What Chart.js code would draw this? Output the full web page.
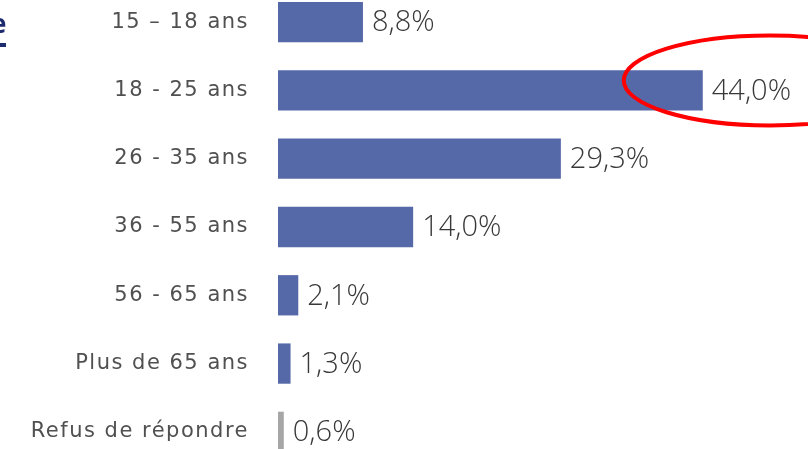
<!DOCTYPE html>
<html>
<head>
<meta charset="utf-8">
<script src="https://cdn.jsdelivr.net/npm/chart.js@4/dist/chart.umd.min.js"></script>
<style>
html,body{margin:0;padding:0;background:#fff;overflow:hidden;width:808px;height:449px;}
#wrap{position:absolute;left:0;top:-12px;width:808px;height:478px;}
</style>
</head>
<body>
<div id="wrap"><canvas id="c"></canvas></div>
<script>
const categories = ["15 – 18 ans", "18 - 25 ans", "26 - 35 ans", "36 - 55 ans", "56 - 65 ans", "Plus de 65 ans", "Refus de répondre"];
const values = [8.8, 44.0, 29.3, 14.0, 2.1, 1.3, 0.6];
const valueLabels = ["8,8%", "44,0%", "29,3%", "14,0%", "2,1%", "1,3%", "0,6%"];
const barColors = ["#5568a8", "#5568a8", "#5568a8", "#5568a8", "#5568a8", "#5568a8", "#a6a6a6"];
const highlightIndex = 1;

const spacingPlugin = {
  id: 'spacing',
  beforeDraw(chart) { chart.ctx.letterSpacing = '1.5px'; }
};

const valueLabelPlugin = {
  id: 'valueLabels',
  afterDatasetsDraw(chart) {
    const ctx = chart.ctx;
    const meta = chart.getDatasetMeta(0);
    ctx.save();
    ctx.letterSpacing = '0px';
    ctx.font = '300 29px "Open Sans", sans-serif';
    ctx.fillStyle = '#383838';
    ctx.textBaseline = 'middle';
    ctx.textAlign = 'left';
    meta.data.forEach((bar, i) => {
      ctx.fillText(valueLabels[i], bar.x + 9, bar.y + 1);
    });
    // highlight ellipse around the highlighted value
    const hb = meta.data[highlightIndex];
    ctx.beginPath();
    ctx.strokeStyle = '#ff0000';
    ctx.lineWidth = 4;
    ctx.ellipse(hb.x + 67, hb.y - 10, 146, 45, 0, 0, Math.PI * 2);
    ctx.stroke();
    // clipped title fragment in the corner
    ctx.fillStyle = '#1c2a6e';
    ctx.font = 'bold 26px "Open Sans", sans-serif';
    ctx.textBaseline = 'alphabetic';
    ctx.fillText('e', -9, 45);
    ctx.fillRect(0, 55, 6, 4);
    ctx.restore();
  }
};

new Chart(document.getElementById('c'), {
  type: 'bar',
  data: {
    labels: categories,
    datasets: [{
      data: values,
      backgroundColor: barColors,
      borderWidth: 0,
      barPercentage: 0.59,
      categoryPercentage: 1.0
    }]
  },
  options: {
    indexAxis: 'y',
    responsive: true,
    maintainAspectRatio: false,
    animation: false,
    layout: { padding: 0 },
    plugins: { legend: { display: false }, tooltip: { enabled: false } },
    scales: {
      x: { display: false, min: 0, max: 54.9 },
      y: {
        grid: { display: false },
        border: { display: false },
        ticks: {
          color: '#505050',
          font: { family: '"DejaVu Sans", sans-serif', size: 21 },
          padding: 21
        },
        afterFit(scale) {
          scale.width = 278;
          scale.paddingTop = 0;
          scale.paddingBottom = 0;
        }
      }
    }
  },
  plugins: [spacingPlugin, valueLabelPlugin]
});
</script>
</body>
</html>
